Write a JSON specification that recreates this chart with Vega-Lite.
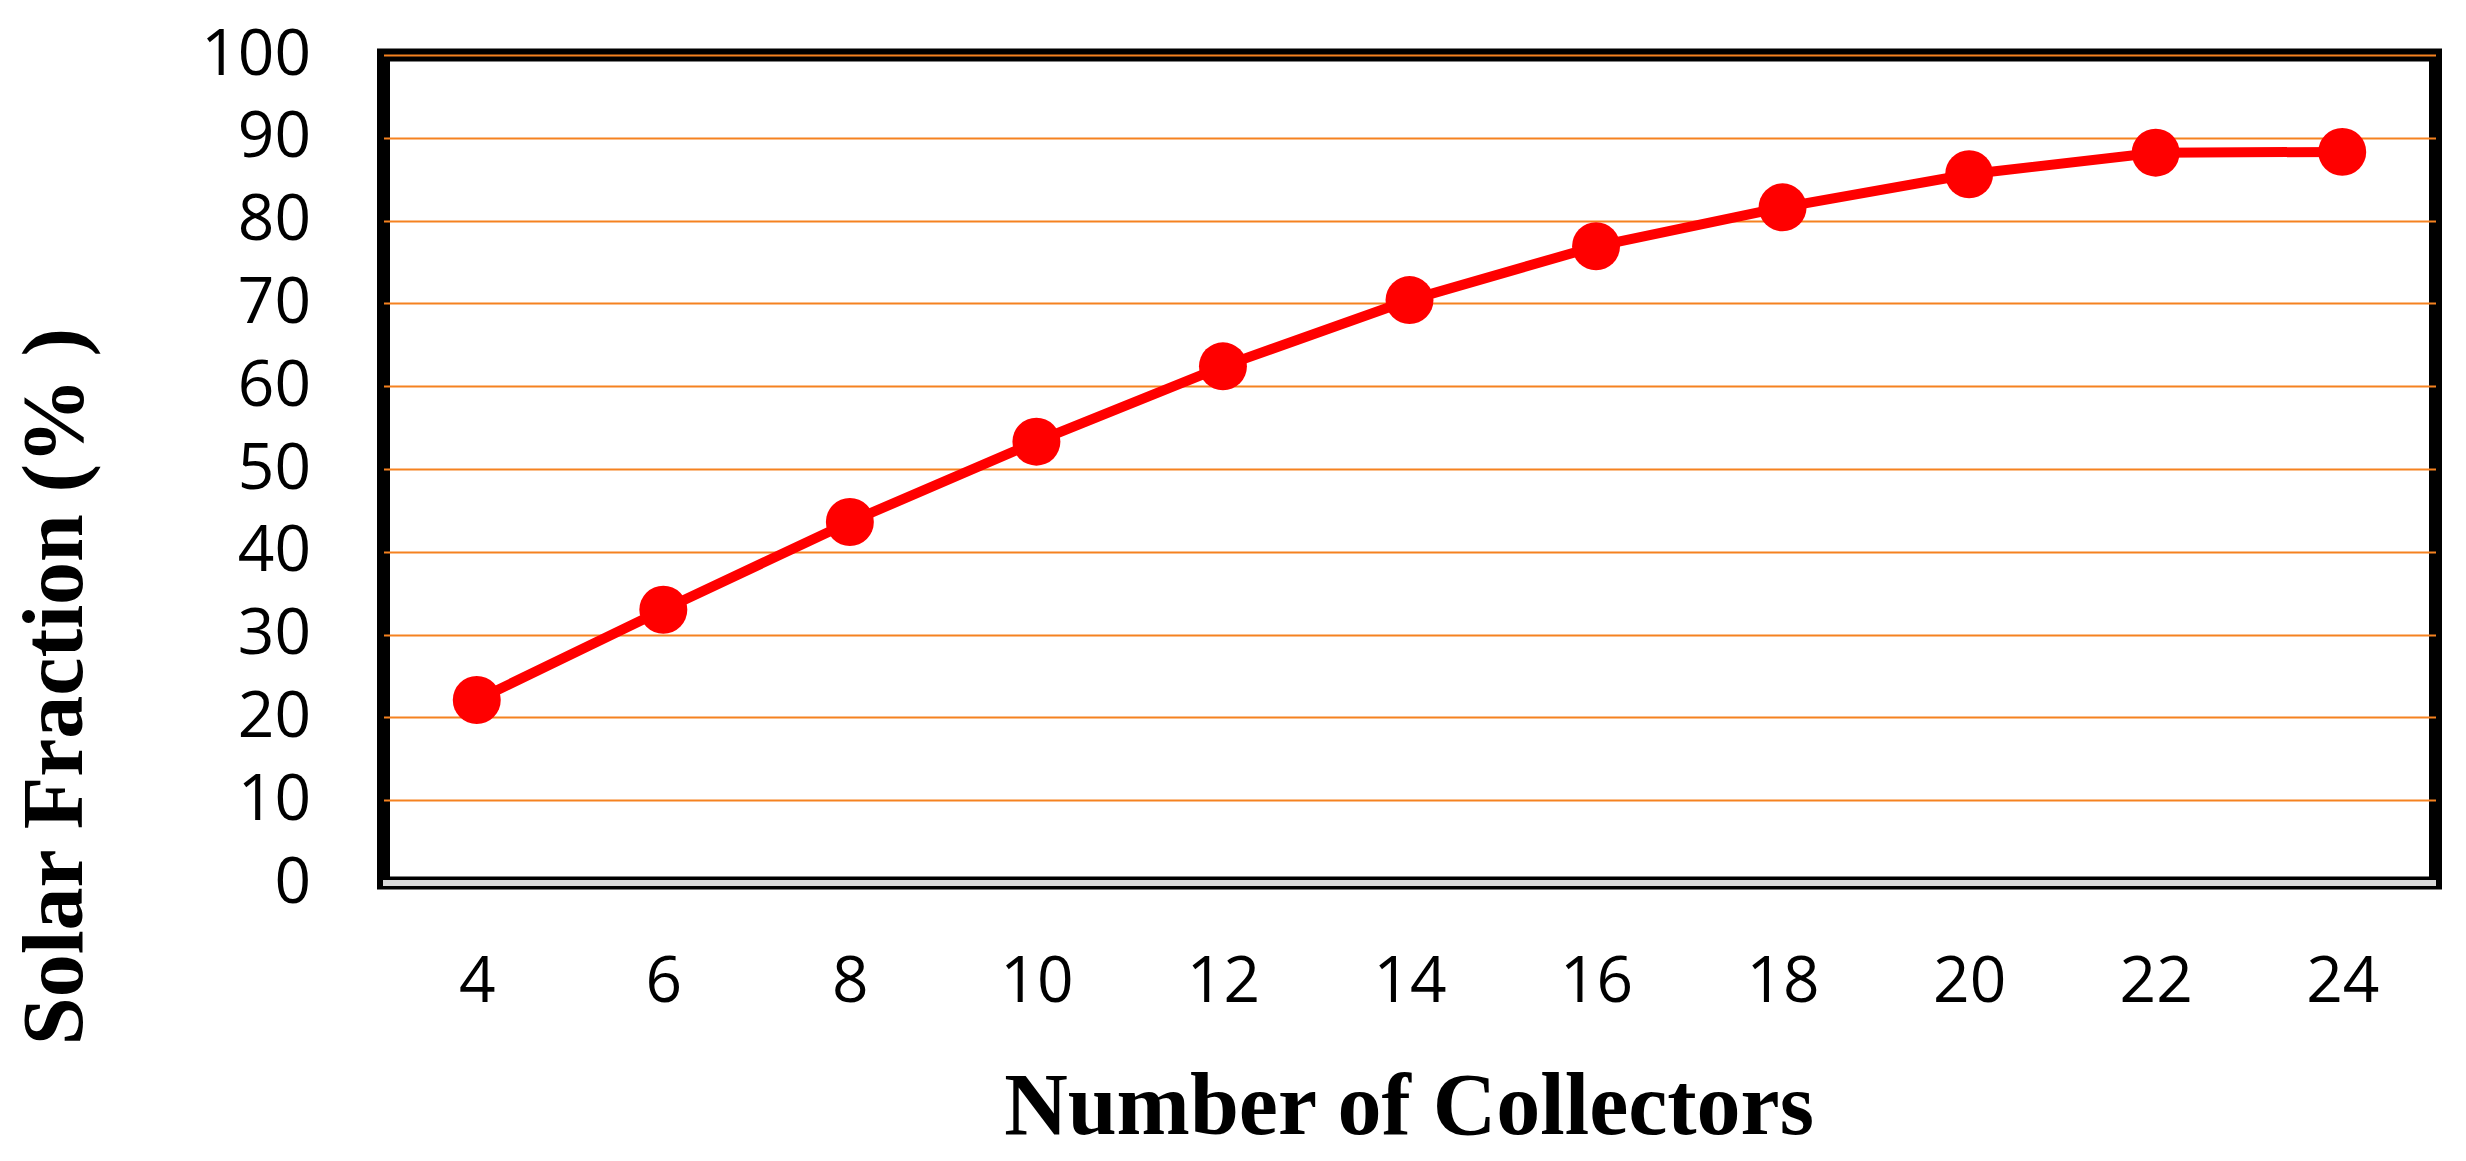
{
  "$schema": "https://vega.github.io/schema/vega-lite/v6.json",
  "width": 2052,
  "height": 828,
  "autosize": {"type": "none"},
  "padding": {"left": 383.5, "top": 55, "right": 30.5, "bottom": 278},
  "background": "white",
  "config": {
    "view": {"stroke": "black", "strokeWidth": 13},
    "axis": {
      "labelFont": "Open Sans",
      "labelFontSize": 64,
      "labelColor": "black",
      "titleFont": "Liberation Serif",
      "titleFontWeight": "bold",
      "titleColor": "black",
      "domain": false,
      "ticks": false
    }
  },
  "data": {
    "values": [
      {"collectors": 4, "fraction": 22.1},
      {"collectors": 6, "fraction": 33.0},
      {"collectors": 8, "fraction": 43.6},
      {"collectors": 10, "fraction": 53.3},
      {"collectors": 12, "fraction": 62.4},
      {"collectors": 14, "fraction": 70.4},
      {"collectors": 16, "fraction": 76.9},
      {"collectors": 18, "fraction": 81.6},
      {"collectors": 20, "fraction": 85.6},
      {"collectors": 22, "fraction": 88.2},
      {"collectors": 24, "fraction": 88.3}
    ]
  },
  "layer": [
    {
      "mark": {"type": "line", "color": "#FF0000", "strokeWidth": 10},
      "encoding": {
        "x": {
          "field": "collectors",
          "type": "quantitative",
          "scale": {"domain": [3, 25], "nice": false, "zero": false},
          "axis": {
            "values": [4, 6, 8, 10, 12, 14, 16, 18, 20, 22, 24],
            "format": "d",
            "grid": false,
            "labelPadding": 67,
            "title": "Number of Collectors",
            "titleFontSize": 88,
            "titleBaseline": "alphabetic",
            "titleY": 250,
            "titleX": 1025,
            "titleAnchor": "middle"
          }
        },
        "y": {
          "field": "fraction",
          "type": "quantitative",
          "scale": {"domain": [0, 100], "nice": false},
          "axis": {
            "values": [0, 10, 20, 30, 40, 50, 60, 70, 80, 90, 100],
            "format": "d",
            "grid": true,
            "gridColor": "#F58220",
            "gridWidth": 2,
            "labelPadding": 73,
            "title": "Solar Fraction (% )",
            "titleFontSize": 86,
            "titleAngle": 270,
            "titleBaseline": "alphabetic",
            "titleAlign": "center",
            "titleX": -302.5,
            "titleY": 631
          }
        }
      }
    },
    {
      "mark": {"type": "point", "filled": true, "color": "#FF0000", "opacity": 1, "size": 2300},
      "encoding": {
        "x": {"field": "collectors", "type": "quantitative"},
        "y": {"field": "fraction", "type": "quantitative"}
      }
    },
    {
      "mark": {"type": "rule", "color": "#D9D9D9", "strokeWidth": 6},
      "encoding": {
        "y": {"datum": 0}
      }
    }
  ]
}
